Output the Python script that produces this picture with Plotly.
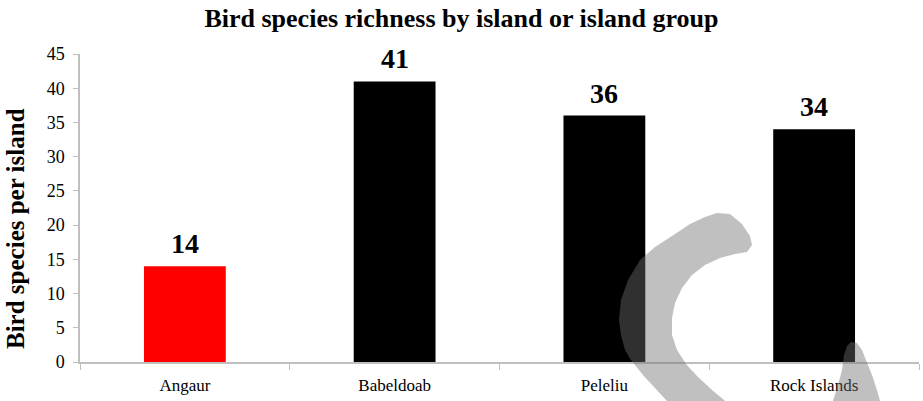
import plotly.graph_objects as go

# ---- data ----
islands = ["Angaur", "Babeldoab", "Peleliu", "Rock Islands"]
species = [14, 41, 36, 34]
bar_colors = ["#ff0000", "#000000", "#000000", "#000000"]
y_ticks = [0, 5, 10, 15, 20, 25, 30, 35, 40, 45]

W, H = 923, 401
L, R, T, B = 80, 4, 54, 39
PW, PH = W - L - R, H - T - B

def px(xp, yp):
    return (xp - L) / PW, (H - B - yp) / PH

def path_from(points):
    s = ""
    for i, (a, b) in enumerate(points):
        x, y = px(a, b)
        s += ("M" if i == 0 else "L") + f"{x:.4f},{y:.4f} "
    return s + "Z"

# decorative watermark swoosh (pixel outline)
swoosh_main = [(672,410),(667,401),(655,388),(643,375),(631,360),(625,350),(621,335),
               (619,320),(621,300),(628,280),(640,260),(655,247),(672,236),(690,224),
               (705,217),(717,213),(730,214),(742,224),(750,236),(752,245),(747,252),
               (735,254),(720,258),(705,265),(692,275),(682,288),(675,303),(672,318),
               (672,335),(677,350),(686,364),(697,376),(712,390),(730,405)]
swoosh_right = [(830,410),(833,401),(838,385),(842,370),(844,355),(847,346),(851,342),
                (857,343),(862,350),(866,360),(872,375),(877,390),(880,401),(882,410)]

serif = "Liberation Serif"

fig = go.Figure(go.Bar(
    x=islands, y=species, marker=dict(color=bar_colors, line=dict(width=0)),
    width=0.39, hoverinfo="skip"))

annotations = [dict(x=c, y=v, xref="x", yref="y", text=f"<b>{v}</b>", showarrow=False,
                    yanchor="bottom", yshift=5, font=dict(family=serif, size=28, color="black"))
               for c, v in zip(islands, species)]
annotations.append(dict(x=(16 - L) / PW, y=(H - B - 229) / PH, xref="paper", yref="paper",
                        text="<b>Bird species per island</b>", textangle=-90, showarrow=False,
                        xanchor="center", yanchor="middle",
                        font=dict(family=serif, size=25, color="black")))

shapes = [dict(type="path", xref="paper", yref="paper", path=path_from(p),
               fillcolor="rgba(110,110,110,0.435)", line=dict(width=0), layer="above")
          for p in (swoosh_main, swoosh_right)]

fig.update_layout(
    width=W, height=H, margin=dict(l=L, r=R, t=T, b=B),
    paper_bgcolor="white", plot_bgcolor="white", showlegend=False,
    title=dict(text="<b>Bird species richness by island or island group</b>",
               x=0.5, xanchor="center", y=1 - 18 / H, yanchor="middle", yref="container",
               font=dict(family=serif, size=26, color="black")),
    xaxis=dict(showline=True, linecolor="#bfbfbf", linewidth=1.5, ticks="outside",
               tickson="boundaries", ticklen=6, tickcolor="#bfbfbf", showgrid=False,
               tickfont=dict(family=serif, size=17, color="black"), ticklabelstandoff=7),
    yaxis=dict(range=[0, 45], tickvals=y_ticks, showline=True, linecolor="#bfbfbf",
               linewidth=1.5, ticks="outside", ticklen=5, tickcolor="#bfbfbf",
               showgrid=False, zeroline=False, ticklabelstandoff=5,
               tickfont=dict(family=serif, size=18, color="black")),
    annotations=annotations, shapes=shapes,
)

fig.write_html("out.html")
